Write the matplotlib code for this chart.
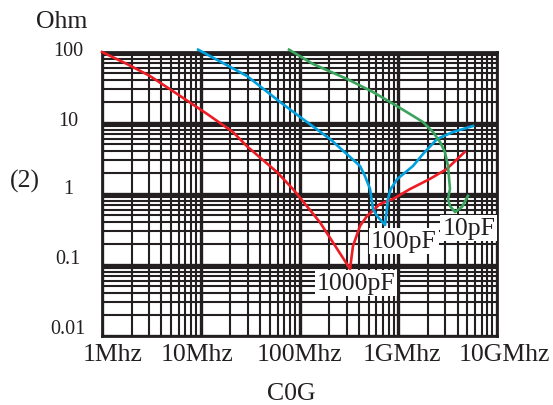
import numpy as np
import matplotlib
matplotlib.use("Agg")
import matplotlib.pyplot as plt
import matplotlib.transforms as mtransforms
from matplotlib.ticker import LogLocator, NullFormatter

plt.rcParams['font.family'] = ['Liberation Serif', 'DejaVu Serif']

# impedance curves (Hz, Ohm)
red_f = [1.0e6, 1.79e6, 3.06e6, 6.2e6, 1.16e7, 2.12e7, 2.94e7, 5.9e7, 8.6e7,
         1.61e8, 3.25e8, 3.48e8, 4.1e8, 4.83e8, 6.5e8, 8.85e8, 1.31e9,
         2.09e9, 3.1e9, 4.7e9]
red_z = [100, 67.8, 45.9, 24, 13.4, 7.46, 4.7, 2.04, 1.17,
         0.40, 0.088, 0.185, 0.355, 0.49, 0.72, 0.85, 1.17,
         1.63, 2.25, 3.9]

blue_f = [9.4e6, 2.94e7, 6.35e7, 1.01e8, 2.04e8, 4.1e8, 4.6e8, 5.18e8, 5.55e8,
          6.1e8, 7.35e8, 7.6e8, 7.87e8, 8.4e8, 9.8e8, 1.41e9, 1.78e9, 2.47e9,
          3.58e9, 5.71e9]
blue_z = [108, 45.9, 19.8, 12.2, 5.95, 2.48, 1.79, 1.18, 0.615,
          0.49, 0.366, 0.55, 0.85, 1.18, 1.63, 2.48, 3.66, 5.95,
          7.46, 9.08]

green_f = [7.83e7, 1.37e8, 3.03e8, 5.55e8, 9.7e8, 1.41e9, 1.78e9, 2.25e9,
           2.65e9, 2.97e9, 3.19e9, 3.34e9, 3.19e9, 3.34e9, 3.76e9, 4.43e9,
           5.08e9]
green_z = [108, 67.8, 41.7, 27.3, 17.3, 12.6, 10.3, 7.46,
           5.4, 3.9, 2.48, 1.18, 0.85, 0.68, 0.557, 0.66,
           0.94]

labels = ['1000pF', '100pF', '10pF']
label_f = [3.73e8, 1.14e9, 5.2e9]
label_z = [0.0557, 0.218, 0.332]

xticks = [1e6, 1e7, 1e8, 1e9, 1e10]
xtick_labels = ['1Mhz', '10Mhz', '100Mhz', '1GMhz', '10GMhz']
yticks = [0.01, 0.1, 1, 10, 100]
ytick_labels = ['0.01', '0.1', '1', '10', '100']

# small pixel nudges of the tick texts, as in the original
xlab_dx = [11, -4, 0, 4, 7]
ylab_dy = [8, 7, 5, 3, 2]

W, H = 553, 406
fig = plt.figure(figsize=(W / 100, H / 100), dpi=100)
ax = fig.add_axes([102 / W, (H - 337) / H, 395 / W, 284 / H])
ax.set_xscale('log')
ax.set_yscale('log')
ax.set_xlim(1e6, 1e10)
ax.set_ylim(0.01, 100)

gc = '#231f20'
ax.xaxis.set_minor_locator(LogLocator(base=10, subs=np.arange(2, 10)))
ax.yaxis.set_minor_locator(LogLocator(base=10, subs=np.arange(2, 10)))
ax.xaxis.set_minor_formatter(NullFormatter())
ax.yaxis.set_minor_formatter(NullFormatter())
ax.grid(which='major', color=gc, lw=2.4)
ax.grid(which='minor', color=gc, lw=1.5)
ax.set_axisbelow(True)
for s in ax.spines.values():
    s.set_color(gc)
    s.set_linewidth(2)

ax.set_xticks(xticks)
ax.set_yticks(yticks)
ax.set_xticklabels([])
ax.set_yticklabels([])
ax.tick_params(which='both', length=0)

# tick texts
bx = mtransforms.blended_transform_factory(ax.transData, ax.transAxes)
by = mtransforms.blended_transform_factory(ax.transAxes, ax.transData)
for v, t, dx in zip(xticks, xtick_labels, xlab_dx):
    tr = bx + mtransforms.ScaledTranslation(dx / 100, -18 / 100, fig.dpi_scale_trans)
    ax.text(v, 0, t, transform=tr, fontsize=18.5, ha='center', va='center',
            color=gc, clip_on=False)
for v, t, dy in zip(yticks, ytick_labels, ylab_dy):
    tr = by + mtransforms.ScaledTranslation(-34 / 100, dy / 100, fig.dpi_scale_trans)
    ax.text(0, v, t, transform=tr, fontsize=14.5, ha='center', va='center',
            color=gc, clip_on=False)

ax.plot(red_f, red_z, color='#ed1c24', lw=1.9, clip_on=False, zorder=3)
ax.plot(blue_f, blue_z, color='#00a0e0', lw=1.9, clip_on=False, zorder=3)
ax.plot(green_f, green_z, color='#3aa35c', lw=1.9, clip_on=False, zorder=3)

for txt, f, z in zip(labels, label_f, label_z):
    ax.text(f, z, txt, fontsize=18.5, ha='center', va='center', color=gc,
            zorder=4, bbox=dict(facecolor='white', edgecolor='none', pad=1.5))

fig.text(62 / W, 1 - 22 / H, 'Ohm', fontsize=18.5, ha='center', va='center', color=gc)
fig.text(25 / W, 1 - 181 / H, '(2)', fontsize=18.5, ha='center', va='center', color=gc)
fig.text(291 / W, 1 - 394 / H, 'C0G', fontsize=18.5, ha='center', va='center', color=gc)

fig.savefig('out.png', dpi=100)
